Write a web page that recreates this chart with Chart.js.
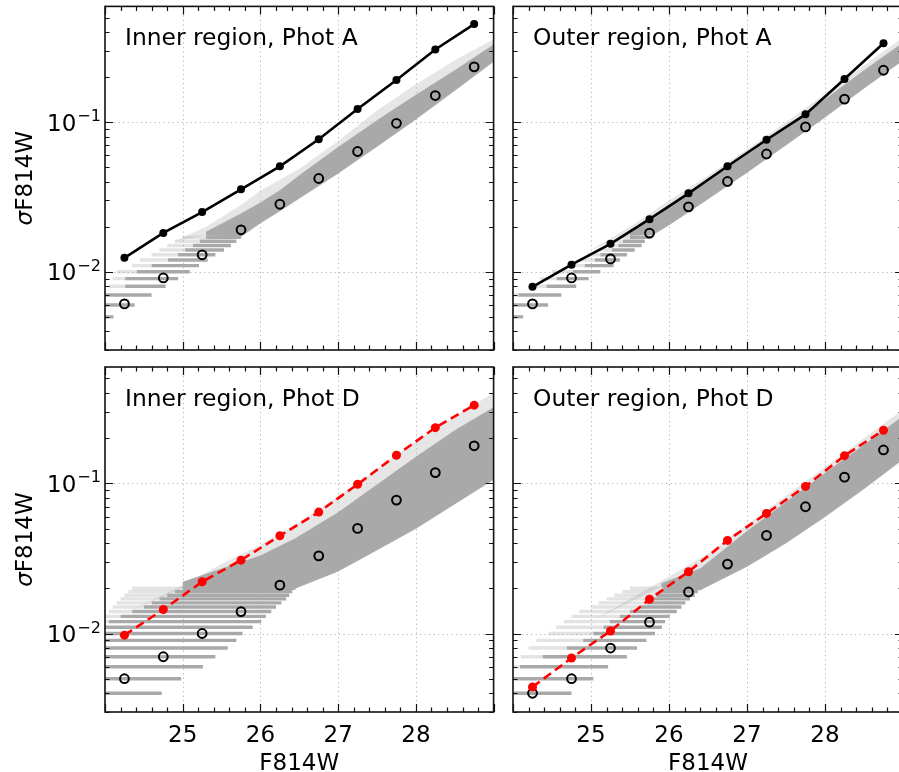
<!DOCTYPE html>
<html>
<head>
<meta charset="utf-8">
<script src="https://cdn.jsdelivr.net/npm/chart.js@4.4.1/dist/chart.umd.min.js"></script>
<style>
  html, body { margin: 0; padding: 0; background: #fff; overflow: hidden; width: 899px; height: 772px; }
  canvas { position: absolute; }
</style>
</head>
<body>
<canvas id="pTL" width="500" height="358" style="left:0;top:0"></canvas>
<canvas id="pTR" width="420" height="358" style="left:500px;top:0"></canvas>
<canvas id="pBL" width="500" height="414" style="left:0;top:358px"></canvas>
<canvas id="pBR" width="420" height="414" style="left:500px;top:358px"></canvas>
<script>
// Magnitude bin centres (F814W)
const magBins = [24.25, 24.75, 25.25, 25.75, 26.25, 26.75, 27.25, 27.75, 28.25, 28.75];

// Axis ticks
const xMajorTicks = [25, 26, 27, 28];
const yMajorTicks = [0.01, 0.1];

// ---- Inner region, Phot A ----
const innerA_limit = [0.0124, 0.0182, 0.0251, 0.0356, 0.0508, 0.0771, 0.1227, 0.192, 0.307, 0.454];
const innerA_median = [0.0061, 0.0091, 0.0130, 0.0191, 0.0283, 0.0421, 0.0638, 0.0985, 0.151, 0.235];
const innerA_rowLevel = [0.005, 0.006, 0.007, 0.008, 0.009, 0.010, 0.011, 0.012, 0.013, 0.014, 0.015, 0.016, 0.017];
const innerA_rowFaint = [24.0, 24.0, 24.0, 24.05, 24.1, 24.15, 24.35, 24.45, 24.6, 24.7, 24.8, 24.9, 25.0];
const innerA_rowFrom = [24.0, 24.0, 24.0, 24.26, 24.26, 24.41, 24.60, 24.81, 24.94, 25.03, 25.13, 25.22, 25.30];
const innerA_rowTo = [24.11, 24.38, 24.60, 24.78, 24.94, 25.09, 25.21, 25.32, 25.42, 25.53, 25.62, 25.69, 25.75];
const innerA_bandMag = [25.3, 25.75, 26.0, 26.25, 26.5, 27.0, 27.5, 28.0, 28.5, 29.0];
const innerA_bandLo = [0.0175, 0.0172, 0.0212, 0.0255, 0.031, 0.0456, 0.069, 0.105, 0.163, 0.255];
const innerA_bandHi = [0.0185, 0.0245, 0.029, 0.035, 0.044, 0.068, 0.103, 0.152, 0.222, 0.33];
const innerA_hazeMag = [24.9, 25.3, 25.75, 26.0, 26.5, 27.0, 27.5, 28.0, 28.5, 29.0];
const innerA_hazeHi = [0.016, 0.020, 0.028, 0.035, 0.049, 0.075, 0.12, 0.18, 0.26, 0.36];

// ---- Outer region, Phot A ----
const outerA_limit = [0.00794, 0.01117, 0.0154, 0.0225, 0.0335, 0.0508, 0.0764, 0.113, 0.195, 0.338];
const outerA_median = [0.0061, 0.0091, 0.0122, 0.01815, 0.0272, 0.0402, 0.0614, 0.0932, 0.143, 0.223];
const outerA_rowLevel = [0.005, 0.006, 0.007, 0.008, 0.009, 0.010, 0.011, 0.012, 0.013, 0.014, 0.015, 0.016, 0.017, 0.018];
const outerA_rowFaint = [24.0, 24.0, 24.0, 24.2, 24.35, 24.5, 24.7, 24.85, 24.95, 25.1, 25.2, 25.3, 25.4, 25.45];
const outerA_rowFrom = [24.0, 24.0, 24.07, 24.43, 24.56, 24.77, 24.92, 25.05, 25.12, 25.27, 25.35, 25.41, 25.50, 25.55];
const outerA_rowTo = [24.13, 24.45, 24.62, 24.81, 24.97, 25.12, 25.29, 25.37, 25.46, 25.56, 25.65, 25.69, 25.76, 25.80];
const outerA_bandMag = [25.5, 25.8, 26.0, 26.5, 27.0, 27.5, 28.0, 28.5, 29.0];
const outerA_bandLo = [0.0175, 0.0178, 0.0206, 0.0307, 0.0462, 0.0704, 0.108, 0.169, 0.26];
const outerA_bandHi = [0.0185, 0.0225, 0.0271, 0.0403, 0.0606, 0.0924, 0.142, 0.222, 0.34];
const outerA_hazeMag = [25.0, 25.5, 26.0, 26.5, 27.0, 27.5, 28.0, 28.5, 29.0];
const outerA_hazeHi = [0.014, 0.020, 0.030, 0.044, 0.066, 0.100, 0.155, 0.24, 0.37];

// ---- Inner region, Phot D ----
const innerD_limit = [0.00975, 0.01445, 0.0221, 0.0308, 0.0448, 0.0644, 0.0985, 0.154, 0.235, 0.332];
const innerD_median = [0.0050, 0.0070, 0.0100, 0.0140, 0.0210, 0.0329, 0.0501, 0.0774, 0.118, 0.178];
const innerD_rowLevel = [0.004, 0.005, 0.006, 0.007, 0.008, 0.009, 0.010, 0.011, 0.012, 0.013, 0.014, 0.015, 0.016, 0.017, 0.018, 0.019, 0.020];
const innerD_rowFaint = [24.0, 24.0, 24.0, 24.0, 24.0, 24.0, 24.0, 24.0, 24.0, 24.0, 24.05, 24.1, 24.15, 24.2, 24.25, 24.3, 24.35];
const innerD_rowFrom = [24.0, 24.0, 24.0, 24.0, 24.0, 24.0, 24.0, 24.0, 24.05, 24.2, 24.35, 24.5, 24.6, 24.7, 24.8, 24.9, 25.0];
const innerD_rowTo = [24.73, 24.98, 25.26, 25.42, 25.58, 25.69, 25.77, 25.90, 26.01, 26.07, 26.14, 26.20, 26.27, 26.33, 26.37, 26.41, 26.45];
const innerD_bandMag = [25.0, 25.5, 26.0, 26.45, 27.0, 27.5, 28.0, 28.5, 29.0];
const innerD_bandLo = [0.020, 0.020, 0.020, 0.020, 0.026, 0.036, 0.050, 0.073, 0.106];
const innerD_bandHi = [0.022, 0.027, 0.033, 0.043, 0.064, 0.098, 0.15, 0.225, 0.32];
const innerD_hazeMag = [24.3, 25.0, 25.5, 26.0, 26.5, 27.0, 27.5, 28.0, 28.5, 29.0];
const innerD_hazeHi = [0.014, 0.021, 0.029, 0.039, 0.055, 0.082, 0.125, 0.19, 0.28, 0.40];

// ---- Outer region, Phot D ----
const outerD_limit = [0.0044, 0.00687, 0.0104, 0.0169, 0.0258, 0.0417, 0.0631, 0.0955, 0.153, 0.226];
const outerD_median = [0.0040, 0.0050, 0.0080, 0.0119, 0.0189, 0.0290, 0.0450, 0.0699, 0.110, 0.167];
const outerD_rowLevel = [0.004, 0.005, 0.006, 0.007, 0.008, 0.009, 0.010, 0.011, 0.012, 0.013, 0.014, 0.015, 0.016, 0.017, 0.018, 0.019, 0.020];
const outerD_rowFaint = [24.0, 24.0, 24.0, 24.1, 24.2, 24.3, 24.45, 24.55, 24.65, 24.75, 24.85, 25.0, 25.1, 25.2, 25.3, 25.4, 25.5];
const outerD_rowFrom = [24.0, 24.0, 24.09, 24.38, 24.69, 24.90, 25.03, 25.16, 25.24, 25.37, 25.50, 25.63, 25.71, 25.80, 25.84, 25.88, 25.92];
const outerD_rowTo = [24.75, 25.03, 25.22, 25.46, 25.59, 25.71, 25.82, 25.91, 25.95, 26.01, 26.10, 26.16, 26.21, 26.27, 26.33, 26.37, 26.42];
const outerD_bandMag = [25.9, 26.4, 27.0, 27.5, 28.0, 28.5, 29.0];
const outerD_bandLo = [0.0205, 0.0195, 0.028, 0.040, 0.060, 0.092, 0.145];
const outerD_bandHi = [0.0215, 0.027, 0.048, 0.075, 0.117, 0.18, 0.28];
const outerD_hazeMag = [25.0, 25.5, 26.0, 26.5, 27.0, 27.5, 28.0, 28.5, 29.0];
const outerD_hazeHi = [0.012, 0.017, 0.024, 0.034, 0.053, 0.083, 0.128, 0.20, 0.31];

const FONT = '"DejaVu Sans", "Liberation Sans", sans-serif';
const TXT = 23;
const TITLE = 23.4;
const GREY = '#a9a9a9';
const FAINT = 'rgba(169,169,169,0.32)';
const HAZE = 'rgba(200,200,200,0.45)';

// Axis frame, inward ticks, dotted grid and all labels
const axesDecor = {
  id: 'axesDecor',
  beforeDatasetsDraw(chart, args, o) {
    const { ctx, chartArea: a, scales: { x, y } } = chart;
    ctx.save();
    ctx.strokeStyle = '#b9b9b9';
    ctx.lineWidth = 1;
    ctx.setLineDash([1.3, 3.2]);
    ctx.beginPath();
    xMajorTicks.forEach(v => { const px = Math.round(x.getPixelForValue(v)) + 0.5; ctx.moveTo(px, a.top); ctx.lineTo(px, a.bottom); });
    yMajorTicks.forEach(v => { const py = Math.round(y.getPixelForValue(v)) + 0.5; ctx.moveTo(a.left, py); ctx.lineTo(a.right, py); });
    ctx.stroke();
    ctx.restore();
  },
  afterDatasetsDraw(chart, args, o) {
    const { ctx, chartArea: a, scales: { x, y } } = chart;
    ctx.save();
    ctx.strokeStyle = '#111';
    ctx.lineWidth = 1.2;
    ctx.beginPath();
    // x ticks every 0.2 mag, major on integers
    for (let k = 0; k <= 25; k++) {
      const v = 24 + k * 0.2;
      const len = (k % 5 === 0) ? 8 : 4.5;
      const px = Math.round(x.getPixelForValue(v)) + 0.5;
      ctx.moveTo(px, a.bottom); ctx.lineTo(px, a.bottom - len);
      ctx.moveTo(px, a.top); ctx.lineTo(px, a.top + len);
    }
    // y ticks on the log scale
    for (let e = -3; e <= 0; e++) {
      for (let m = 1; m <= 9; m++) {
        const v = m * Math.pow(10, e);
        if (v < y.min || v > y.max) continue;
        const len = (m === 1) ? 8 : 4.5;
        const py = Math.round(y.getPixelForValue(v)) + 0.5;
        ctx.moveTo(a.left, py); ctx.lineTo(a.left + len, py);
        ctx.moveTo(a.right, py); ctx.lineTo(a.right - len, py);
      }
    }
    ctx.stroke();
    // frame
    ctx.lineWidth = 1.6;
    ctx.strokeRect(a.left, a.top, a.right - a.left, a.bottom - a.top);

    ctx.fillStyle = '#000';
    // panel title
    ctx.font = TITLE + 'px ' + FONT;
    ctx.textAlign = 'left';
    ctx.textBaseline = 'alphabetic';
    ctx.fillText(o.title, a.left + 20, a.top + 38.5);

    ctx.font = TXT + 'px ' + FONT;
    if (o.xLabels) {
      ctx.textAlign = 'center';
      xMajorTicks.forEach(v => ctx.fillText(String(v), x.getPixelForValue(v), a.bottom + 30));
      ctx.fillText('F814W', (a.left + a.right) / 2, a.bottom + 58);
    }
    if (o.yLabels) {
      const supSize = TXT * 0.7;
      yMajorTicks.forEach(v => {
        const py = y.getPixelForValue(v);
        const base = '10', sup = '\u2212' + String(-Math.round(Math.log10(v)));
        ctx.font = TXT + 'px ' + FONT;
        const wb = ctx.measureText(base).width;
        ctx.font = supSize + 'px ' + FONT;
        const ws = ctx.measureText(sup).width;
        const x0 = a.left - 4 - wb - ws - 1;
        ctx.textAlign = 'left';
        ctx.font = TXT + 'px ' + FONT;
        ctx.fillText(base, x0, py + 8.3);
        ctx.font = supSize + 'px ' + FONT;
        ctx.fillText(sup, x0 + wb + 1, py - 1);
      });
      // rotated axis label: italic sigma followed by the filter name
      ctx.translate(32, (a.top + a.bottom) / 2);
      ctx.rotate(-Math.PI / 2);
      ctx.font = 'italic ' + TXT + 'px ' + FONT;
      const ws = ctx.measureText('\u03c3').width;
      ctx.font = TXT + 'px ' + FONT;
      const wt = ctx.measureText('F814W').width;
      const start = -(ws + wt) / 2;
      ctx.textAlign = 'left';
      ctx.font = 'italic ' + TXT + 'px ' + FONT;
      ctx.fillText('\u03c3', start, 0);
      ctx.font = TXT + 'px ' + FONT;
      ctx.fillText('F814W', start + ws, 0);
    }
    ctx.restore();
  }
};

function pts(xs, ys) { return xs.map((v, i) => ({ x: v, y: ys[i] })); }

function buildPanel(id, cfg) {
  const ds = [];
  // summary curve with filled markers
  ds.push({
    data: pts(magBins, cfg.limit), borderColor: cfg.color, backgroundColor: cfg.color,
    borderWidth: 2.6, borderDash: cfg.dash, pointRadius: cfg.dotR, pointBorderWidth: 0,
    pointBackgroundColor: cfg.color, order: 0
  });
  // median markers (open circles)
  ds.push({
    data: pts(magBins, cfg.median), showLine: false, pointRadius: 4.4, pointBorderWidth: 2,
    pointBorderColor: '#000', pointBackgroundColor: 'rgba(0,0,0,0)', order: 1
  });
  // quantised rows at the bright end
  cfg.rowLevel.forEach((lvl, i) => {
    ds.push({
      data: [{ x: cfg.rowFrom[i], y: lvl }, { x: cfg.rowTo[i], y: lvl }],
      borderColor: GREY, borderWidth: 3.4, borderCapStyle: 'butt', pointRadius: 0, order: 2
    });
    if (cfg.rowFaint[i] < cfg.rowFrom[i]) {
      ds.push({
        data: [{ x: cfg.rowFaint[i], y: lvl }, { x: cfg.rowFrom[i], y: lvl }],
        borderColor: FAINT, borderWidth: 3.4, borderCapStyle: 'butt', pointRadius: 0, order: 3
      });
    }
  });
  // dense part of the star distribution
  const band = pts(cfg.bandMag, cfg.bandHi).concat(pts(cfg.bandMag, cfg.bandLo).reverse());
  ds.push({
    data: band, fill: 'shape', backgroundColor: GREY, borderColor: GREY, borderWidth: 0.5,
    pointRadius: 0, order: 4
  });
  // sparse scatter above the dense part
  const haze = pts(cfg.hazeMag, cfg.hazeHi).concat(pts(cfg.bandMag, cfg.bandLo).reverse());
  ds.push({
    data: haze, fill: 'shape', backgroundColor: HAZE, borderColor: 'rgba(0,0,0,0)', borderWidth: 0,
    pointRadius: 0, order: 5
  });

  new Chart(document.getElementById(id), {
    type: 'line',
    data: { datasets: ds },
    options: {
      responsive: false, animation: false, events: [],
      layout: { padding: cfg.pad },
      elements: { line: { tension: 0 } },
      plugins: {
        legend: { display: false }, tooltip: { enabled: false },
        axesDecor: { title: cfg.title, xLabels: cfg.xLabels, yLabels: cfg.yLabels }
      },
      scales: {
        x: { type: 'linear', min: 24, max: 29, display: false },
        y: { type: 'logarithmic', min: 0.003, max: 0.596, display: false }
      }
    },
    plugins: [axesDecor]
  });
}

buildPanel('pTL', {
  title: 'Inner region, Phot A', color: '#000', dash: [], dotR: 4,
  limit: innerA_limit, median: innerA_median,
  rowLevel: innerA_rowLevel, rowFaint: innerA_rowFaint, rowFrom: innerA_rowFrom, rowTo: innerA_rowTo,
  bandMag: innerA_bandMag, bandLo: innerA_bandLo, bandHi: innerA_bandHi,
  hazeMag: innerA_hazeMag, hazeHi: innerA_hazeHi,
  pad: { left: 105, top: 5, right: 5, bottom: 8 }, xLabels: false, yLabels: true
});
buildPanel('pTR', {
  title: 'Outer region, Phot A', color: '#000', dash: [], dotR: 4,
  limit: outerA_limit, median: outerA_median,
  rowLevel: outerA_rowLevel, rowFaint: outerA_rowFaint, rowFrom: outerA_rowFrom, rowTo: outerA_rowTo,
  bandMag: outerA_bandMag, bandLo: outerA_bandLo, bandHi: outerA_bandHi,
  hazeMag: outerA_hazeMag, hazeHi: outerA_hazeHi,
  pad: { left: 13, top: 5, right: 17, bottom: 8 }, xLabels: false, yLabels: false
});
buildPanel('pBL', {
  title: 'Inner region, Phot D', color: '#ff0000', dash: [9, 5], dotR: 4.5,
  limit: innerD_limit, median: innerD_median,
  rowLevel: innerD_rowLevel, rowFaint: innerD_rowFaint, rowFrom: innerD_rowFrom, rowTo: innerD_rowTo,
  bandMag: innerD_bandMag, bandLo: innerD_bandLo, bandHi: innerD_bandHi,
  hazeMag: innerD_hazeMag, hazeHi: innerD_hazeHi,
  pad: { left: 105, top: 9, right: 5, bottom: 60 }, xLabels: true, yLabels: true
});
buildPanel('pBR', {
  title: 'Outer region, Phot D', color: '#ff0000', dash: [9, 5], dotR: 4.5,
  limit: outerD_limit, median: outerD_median,
  rowLevel: outerD_rowLevel, rowFaint: outerD_rowFaint, rowFrom: outerD_rowFrom, rowTo: outerD_rowTo,
  bandMag: outerD_bandMag, bandLo: outerD_bandLo, bandHi: outerD_bandHi,
  hazeMag: outerD_hazeMag, hazeHi: outerD_hazeHi,
  pad: { left: 13, top: 9, right: 17, bottom: 60 }, xLabels: true, yLabels: false
});
</script>
</body>
</html>
